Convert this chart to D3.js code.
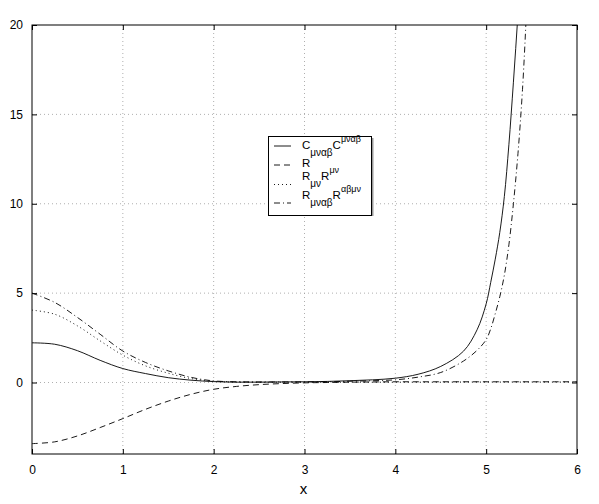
<!DOCTYPE html>
<html>
<head>
<meta charset="utf-8">
<script src="https://cdn.jsdelivr.net/npm/d3@7"></script>
<style>
  body { margin: 0; background: #fff; }
  text { font-family: "Liberation Sans", Arial, sans-serif; }
</style>
</head>
<body>
<svg width="599" height="504"></svg>
<script>
// x samples (shared by all curves)
var xValues = [0, 0.25, 0.5, 0.75, 1, 1.25, 1.5, 1.75, 2, 2.25, 2.5, 2.75, 3, 3.25, 3.5, 3.75,
               4, 4.25, 4.5, 4.75, 4.9, 5, 5.05, 5.1, 5.15, 5.2, 5.25, 5.3, 5.35, 5.4, 5.45, 5.5, 5.75, 6];

// C_{mu nu alpha beta} C^{mu nu alpha beta} (solid)
var weylSq = [2.22, 2.14, 1.78, 1.24, 0.78, 0.5, 0.27, 0.13, 0.05, 0.02, 0.02, 0.03, 0.04, 0.06, 0.1, 0.15,
              0.24, 0.46, 0.9, 1.75, 2.95, 4.4, 5.6, 6.9, 8.4, 10.4, 13.3, 16.8, 20.6, 24.6, null, null, null, null];

// R (dashed)
var ricciScalar = [-3.42, -3.32, -2.99, -2.52, -2.02, -1.5, -1.04, -0.66, -0.38, -0.22, -0.12, -0.06, -0.02, 0, 0.02, 0.03,
                   0.04, 0.04, 0.04, 0.04, 0.04, 0.04, 0.04, 0.04, 0.04, 0.04, 0.04, 0.04, 0.04, 0.04, 0.04, 0.04, 0.04, 0.04];

// R_{mu nu} R^{mu nu} (dotted)
var ricciSq = [4.05, 3.82, 3.17, 2.33, 1.53, 0.93, 0.52, 0.22, 0.07, 0.03, 0.02, 0.02, 0.02, 0.02, 0.02, 0.02,
               0.02, 0.02, 0.02, 0.03, 0.03, 0.03, 0.03, 0.03, 0.03, 0.03, 0.03, 0.03, 0.03, 0.03, 0.03, 0.03, 0.03, 0.03];

// R_{mu nu alpha beta} R^{alpha beta mu nu} (dash-dot)
var riemannSq = [5.0, 4.48, 3.64, 2.7, 1.76, 1.12, 0.65, 0.29, 0.09, 0.04, 0.03, 0.03, 0.03, 0.04, 0.07, 0.1,
                 0.15, 0.3, 0.56, 1.2, 1.8, 2.4, 3.0, 3.85, 4.8, 6.0, 7.7, 10, 12.8, 16.4, 21.5, 28, null, null];

var xTicks = [0, 1, 2, 3, 4, 5, 6];
var yTicks = [0, 5, 10, 15, 20];

// legend labels: [text, 0 = normal, -1 = subscript, 1 = superscript]
var legendLabels = [
    [["C", 0], ["μναβ", -1], ["C", 0], ["μναβ", 1]],
    [["R", 0]],
    [["R", 0], ["μν", -1], ["R", 0], ["μν", 1]],
    [["R", 0], ["μναβ", -1], ["R", 0], ["αβμν", 1]]
];

var series = [
    { values: weylSq,      dash: null },
    { values: ricciScalar, dash: "6,4" },
    { values: ricciSq,     dash: "1,3" },
    { values: riemannSq,   dash: "6,3,1,3" }
];

var svg = d3.select("svg");
var mLeft = 32, mRight = 577, mTop = 25, mBottom = 454;

var x = d3.scaleLinear().domain([0, 6]).range([mLeft, mRight]);
var y = d3.scaleLinear().domain([-4, 20]).range([mBottom, mTop]);

svg.append("defs").append("clipPath").attr("id", "clip")
    .append("rect")
    .attr("x", mLeft).attr("y", mTop)
    .attr("width", mRight - mLeft).attr("height", mBottom - mTop);

// grid
var grid = svg.append("g")
    .attr("stroke", "#9a9a9a")
    .attr("stroke-width", 0.8)
    .attr("stroke-dasharray", "1,3");
grid.selectAll("line.vx")
    .data(xTicks.slice(1, -1))
    .enter().append("line")
    .attr("x1", function(d) { return x(d); })
    .attr("x2", function(d) { return x(d); })
    .attr("y1", mTop).attr("y2", mBottom);
grid.selectAll("line.hy")
    .data(yTicks.slice(0, -1))
    .enter().append("line")
    .attr("y1", function(d) { return y(d); })
    .attr("y2", function(d) { return y(d); })
    .attr("x1", mLeft).attr("x2", mRight);

// curves
var plot = svg.append("g").attr("clip-path", "url(#clip)");
series.forEach(function(s) {
    var line = d3.line()
        .defined(function(d, i) { return s.values[i] != null; })
        .x(function(d, i) { return x(xValues[i]); })
        .y(function(d, i) { return y(s.values[i]); })
        .curve(d3.curveCatmullRom.alpha(0.5));
    plot.append("path")
        .datum(xValues)
        .attr("d", line)
        .attr("fill", "none")
        .attr("stroke", "#000")
        .attr("stroke-width", 0.9)
        .attr("stroke-dasharray", s.dash);
});

// axes (inward ticks, box on)
var axisStyle = function(g) {
    g.select(".domain").remove();
    g.selectAll("line").attr("stroke", "#000");
    g.selectAll("text").attr("font-size", 12).attr("fill", "#000")
        .attr("font-family", "'Liberation Sans', Arial, sans-serif");
};
var fmt = d3.format("d");
svg.append("g")
    .attr("transform", "translate(0," + mBottom + ")")
    .call(d3.axisBottom(x).tickValues(xTicks).tickSize(-5).tickPadding(11).tickFormat(fmt))
    .call(axisStyle);
svg.append("g")
    .attr("transform", "translate(" + mLeft + ",0)")
    .call(d3.axisLeft(y).tickValues(yTicks).tickSize(-5).tickPadding(9).tickFormat(fmt))
    .call(axisStyle);
svg.append("g")
    .attr("transform", "translate(0," + mTop + ")")
    .call(d3.axisTop(x).tickValues(xTicks).tickSize(-5).tickFormat(""))
    .call(axisStyle);
svg.append("g")
    .attr("transform", "translate(" + mRight + ",0)")
    .call(d3.axisRight(y).tickValues(yTicks).tickSize(-5).tickFormat(""))
    .call(axisStyle);

svg.append("rect")
    .attr("x", mLeft).attr("y", mTop)
    .attr("width", mRight - mLeft).attr("height", mBottom - mTop)
    .attr("fill", "none").attr("stroke", "#000").attr("stroke-width", 1);

svg.append("text")
    .attr("x", (mLeft + mRight) / 2 - 1)
    .attr("y", 494)
    .attr("text-anchor", "middle")
    .attr("font-family", "'Liberation Serif', 'Times New Roman', serif")
    .attr("font-size", 15)
    .text("x");

// legend
var legend = svg.append("g").attr("transform", "translate(268,136)");
legend.append("line")
    .attr("x1", 104.5).attr("x2", 104.5).attr("y1", 2).attr("y2", 80)
    .attr("stroke", "#999").attr("stroke-width", 2);
legend.append("rect")
    .attr("x", 0.5).attr("y", 0.5)
    .attr("width", 103).attr("height", 79)
    .attr("fill", "#fff").attr("stroke", "#000");

var lineY = [10, 29, 48.5, 67];
var textY = [12.7, 31, 44, 62.7];

legendLabels.forEach(function(parts, i) {
    legend.append("line")
        .attr("x1", 6).attr("x2", 23)
        .attr("y1", lineY[i]).attr("y2", lineY[i])
        .attr("stroke", "#000").attr("stroke-width", 0.9)
        .attr("stroke-dasharray", series[i].dash);
    var t = legend.append("text")
        .attr("x", 34).attr("y", textY[i])
        .attr("font-size", 11.5).attr("fill", "#000");
    var shift = 0;
    parts.forEach(function(p) {
        var want = p[1] < 0 ? 7 : (p[1] > 0 ? -7 : 0);
        t.append("tspan")
            .attr("dy", want - shift)
            .attr("font-size", p[1] < 0 ? 10 : (p[1] > 0 ? 9 : 11.5))
            .text(p[0]);
        shift = want;
    });
});
</script>
</body>
</html>
